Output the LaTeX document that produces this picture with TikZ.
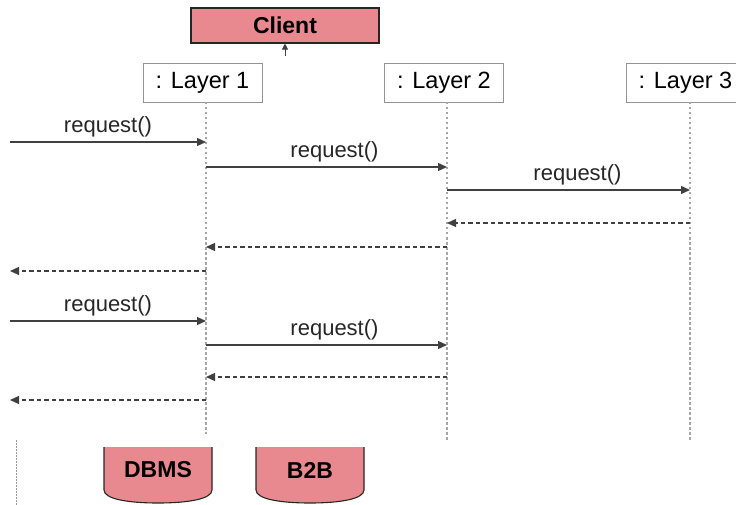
\documentclass[tikz,border=0pt]{standalone}
\usepackage{fontspec}
\setmainfont{Liberation Sans}
\usetikzlibrary{arrows,arrows.meta,calc,positioning}
\definecolor{dbpink}{HTML}{E8898F}
\tikzset{
  layer/.style={draw=gray!85,fill=white,line width=0.9pt,minimum width=119pt,minimum height=39pt,inner sep=0pt,font=\fontsize{23.5}{26}\selectfont},
  pinkbox/.style={draw=black!85,fill=dbpink,line width=1.1pt,font=\bfseries\fontsize{23}{25}\selectfont},
  life/.style={gray!70,line width=1.3pt,dash pattern=on 2.5pt off 2.5pt},
  msg/.style={-{Triangle[length=9pt,width=8pt]},black!75,line width=1.3pt},
  ret/.style={-{Triangle[length=9pt,width=8pt]},black!75,line width=1.3pt,dash pattern=on 4.5pt off 3pt},
  lbl/.style={font=\fontsize{22}{24}\selectfont,black!85,above,inner sep=4pt}
}
\begin{document}
\begin{tikzpicture}[x=1pt,y=-1pt,node distance=241.5pt]
\useasboundingbox (0,0) rectangle (736,505);
% the caller and the three layers
\node[pinkbox,minimum width=188pt,minimum height=35pt] (client) at (285,25.5) {Client};
\node[layer] (L1) at (202.5,82.5) {: Layer 1};
\node[layer,right of=L1] (L2) {: Layer 2};
\node[layer,right of=L2] (L3) {: Layer 3};
\coordinate (up) at (285,56);
\draw[-{Triangle[length=6pt,width=6pt]},black!75,line width=1pt] (up) -- (client);

% lifelines
\coordinate (l1a) at (206,102); \coordinate (l1b) at (206,434);
\coordinate (l2a) at (447,102); \coordinate (l2b) at (447,440);
\coordinate (l3a) at (690,102); \coordinate (l3b) at (690,440);
\draw[life] (l1a) -- (l1b);
\draw[life] (l2a) -- (l2b);
\draw[life] (l3a) -- (l3b);
\coordinate (ll) at (16,440); \coordinate (lle) at (16,505);
\draw[gray!80,line width=1pt,dash pattern=on 1.5pt off 1.5pt] (ll) -- (lle);

% first call, passed down through all layers
\coordinate (m1a) at (10,142);  \coordinate (m1b) at (206,142);
\coordinate (m2a) at (206,167); \coordinate (m2b) at (447,167);
\coordinate (m3a) at (447,190); \coordinate (m3b) at (690,190);
\coordinate (r3a) at (690,223); \coordinate (r3b) at (447,223);
\coordinate (r2a) at (447,247); \coordinate (r2b) at (206,247);
\coordinate (r1a) at (206,271); \coordinate (r1b) at (10,271);
\path[msg] (m1a) edge node[lbl]{request()} (m1b);
\path[msg] (m2a) edge node[lbl,xshift=8pt]{request()} (m2b);
\path[msg] (m3a) edge node[lbl,xshift=9pt]{request()} (m3b);
\path[ret] (r3a) edge (r3b);
\path[ret] (r2a) edge (r2b);
\path[ret] (r1a) edge (r1b);

% second call, answered by layer 2
\coordinate (m4a) at (10,321);  \coordinate (m4b) at (206,321);
\coordinate (m5a) at (206,345); \coordinate (m5b) at (447,345);
\coordinate (r5a) at (447,377); \coordinate (r5b) at (206,377);
\coordinate (r4a) at (206,400); \coordinate (r4b) at (10,400);
\path[msg] (m4a) edge node[lbl]{request()} (m4b);
\path[msg] (m5a) edge node[lbl,xshift=8pt]{request()} (m5b);
\path[ret] (r5a) edge (r5b);
\path[ret] (r4a) edge (r4b);

% data stores
\filldraw[fill=dbpink,draw=black!85,line width=1.1pt]
  (104,447) -- (104,490) .. controls (104,499) and (128,503) .. (158,503)
  .. controls (188,503) and (212,499) .. (212,490) -- (212,447);
\filldraw[fill=dbpink,draw=black!85,line width=1.1pt]
  (256,447) -- (256,490) .. controls (256,499) and (280,503) .. (310,503)
  .. controls (340,503) and (364,499) .. (364,490) -- (364,447);
\node[font=\bfseries\fontsize{23}{25}\selectfont] (dbms) at (158,470) {DBMS};
\node[font=\bfseries\fontsize{23}{25}\selectfont] (b2b) at (310,470) {B2B};
\end{tikzpicture}
\end{document}
